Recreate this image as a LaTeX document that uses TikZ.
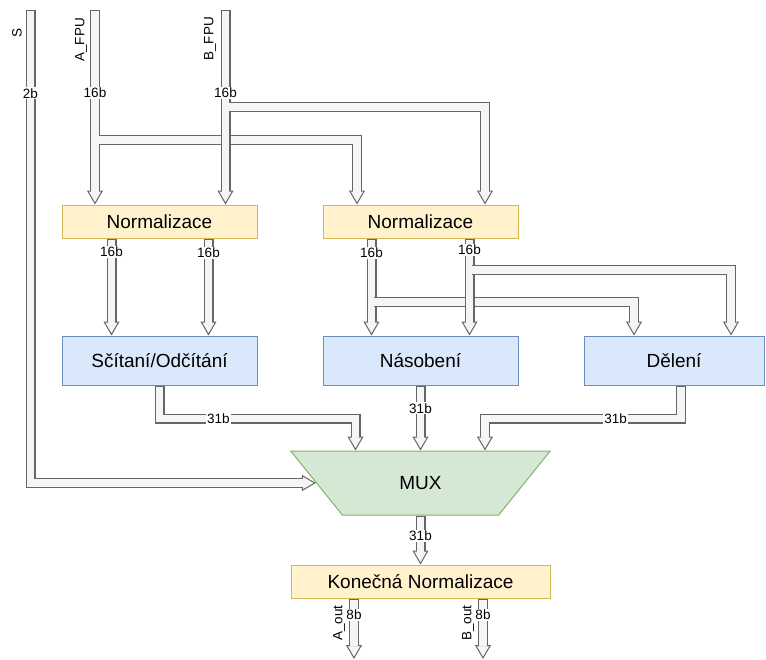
\documentclass[tikz,border=0pt]{standalone}
\usepackage{fontspec}
\setmainfont{Liberation Sans}
\usepackage{tikz}
\usetikzlibrary{arrows.meta, positioning, calc, shapes.geometric}
\definecolor{normfill}{HTML}{FFF2CC}
\definecolor{normline}{HTML}{D6B656}
\definecolor{opfill}{HTML}{DAE8FC}
\definecolor{opline}{HTML}{6C8EBF}
\definecolor{muxfill}{HTML}{D5E8D4}
\definecolor{muxline}{HTML}{82B366}
\definecolor{busline}{HTML}{666666}
\definecolor{busfill}{HTML}{F5F5F5}

\begin{document}
\begin{tikzpicture}[
  x=1pt, y=-1pt,
  norm/.style={draw=normline, fill=normfill, line width=1pt,
               minimum width=195pt, minimum height=33pt,
               font=\fontsize{19}{22}\selectfont},
  oper/.style={draw=opline, fill=opfill, line width=1pt,
               minimum width=195pt, minimum height=49pt,
               font=\fontsize{19}{22}\selectfont},
  mux/.style={trapezium, trapezium left angle=51, trapezium right angle=51,
              trapezium stretches=true, shape border rotate=180,
              draw=muxline, fill=muxfill, line width=1pt,
              minimum width=260pt, minimum height=64pt,
              font=\fontsize{19}{22}\selectfont},
  bus/.style={line width=10pt, draw=busline,
              -{Triangle[length=14pt, width=16pt, line width=1pt, fill=busfill]},
              postaction={draw=busfill, line width=7.6pt, arrows=-,
                          shorten >=13pt, shorten <=#1}},
  bus/.default=1.2pt,
  lbl/.style={fill=white, inner sep=1pt, font=\fontsize{13.5}{15}\selectfont},
  sig/.style={rotate=90, inner sep=0pt, font=\fontsize{13.5}{15}\selectfont}
]
  \useasboundingbox (0,0) rectangle (766,659);

  % Normalization stage
  \node[norm] (norm1) at (159.5,221.5) {Normalizace};
  \node[norm, right=65pt of norm1] (norm2) {Normalizace};

  % Arithmetic units
  \node[oper, below=97pt of norm1] (sum) {Sčítaní/Odčítání};
  \node[oper, right=65pt of sum] (mul) {Násobení};
  \node[oper, minimum width=180pt, right=65pt of mul] (div) {Dělení};

  % Multiplexer and final stage
  \node[mux, below=65pt of mul] (mux) {MUX};
  \node[norm, minimum width=259pt, below=49pt of mux] (fin) {Konečná Normalizace};

  % Inputs
  \coordinate (sin) at (30.5,10);
  \coordinate (ain) at (95,10);
  \coordinate (bin) at (225.5,10);
  \coordinate (atap) at (98.8,140);
  \coordinate (btap) at (229.3,107);

  \node[sig] (slbl) at (17,33) {S};
  \node[sig] (albl) at (81,40) {A\_FPU};
  \node[sig] (blbl) at (210,39) {B\_FPU};

  \draw[bus] (sin) |- (mux.west) node[lbl, pos=0.088] (sbits) {2b};
  \draw[bus] (ain) -- (ain |- norm1.north) node[lbl, pos=0.426] (abits) {16b};
  \draw[bus=0pt] (atap) -| ($(norm2.north)+(-63.5,0)$);
  \draw[bus] (bin) -- (bin |- norm1.north) node[lbl, pos=0.426] (bbits) {16b};
  \draw[bus=0pt] (btap) -| ($(norm2.north)+(64.5,0)$);

  % Normalized operands
  \draw[bus] ($(norm1.south)+(-48,0)$) -- ($(sum.north)+(-48,0)$)
    node[lbl, pos=0.14] (n1abits) {16b};
  \draw[bus] ($(norm1.south)+(49,0)$) -- ($(sum.north)+(49,0)$)
    node[lbl, pos=0.15] (n1bbits) {16b};

  \coordinate (ltap) at (374.3,302);
  \coordinate (rtap) at (472.3,270);
  \draw[bus] ($(norm2.south)+(-49,0)$) -- ($(mul.north)+(-49,0)$)
    node[lbl, pos=0.15] (n2abits) {16b};
  \draw[bus=0pt] (ltap) -| ($(div.north)+(-40,0)$);
  \draw[bus] ($(norm2.south)+(49,0)$) -- ($(mul.north)+(49,0)$)
    node[lbl, pos=0.12] (n2bbits) {16b};
  \draw[bus=0pt] (rtap) -| ($(div.north)+(57,0)$);

  % Results into MUX
  \draw[bus] (sum.south) |- ($(mux.north)+(-65,-32)$) node[lbl, pos=0.65] (sumbits) {31b}
    -- ($(mux.north)+(-65,0)$);
  \draw[bus] (mul.south) -- (mux.north) node[lbl, pos=0.35] (mulbits) {31b};
  \draw[bus] ($(div.south)+(7,0)$) |- ($(mux.north)+(64.5,-32)$) node[lbl, pos=0.667] (divbits) {31b}
    -- ($(mux.north)+(64.5,0)$);

  \draw[bus] (mux.south) -- (fin.north) node[lbl, pos=0.41] (muxbits) {31b};

  % Outputs
  \coordinate (aout) at (354,659);
  \coordinate (bout) at (483,659);
  \draw[bus] (fin.south -| aout) -- (aout) node[lbl, pos=0.27] (aoutbits) {8b};
  \draw[bus] (fin.south -| bout) -- (bout) node[lbl, pos=0.27] (boutbits) {8b};
  \node[sig] (aoutlbl) at (339,623) {A\_out};
  \node[sig] (boutlbl) at (468,623) {B\_out};
\end{tikzpicture}
\end{document}
